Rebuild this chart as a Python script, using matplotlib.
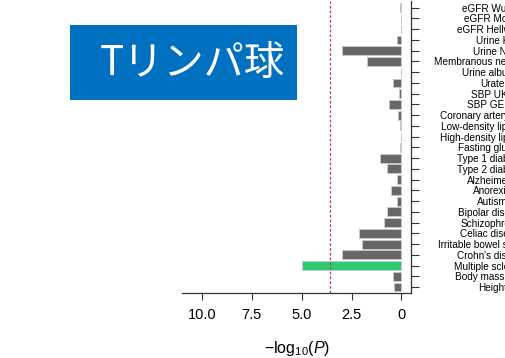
import numpy as np
import matplotlib
matplotlib.use("Agg")
import matplotlib.pyplot as plt
from matplotlib.patches import Rectangle

plt.rcParams['font.family'] = ['Liberation Sans', 'DejaVu Sans']
plt.rcParams['mathtext.fontset'] = 'custom'
plt.rcParams['mathtext.rm'] = 'Liberation Sans'
plt.rcParams['mathtext.it'] = 'Liberation Sans:italic'

# traits, top to bottom, and their -log10(P) enrichment
traits = [
    "eGFR Wuttke", "eGFR Morris", "eGFR Hellwege", "Urine K", "Urine Na",
    "Membranous nephropathy", "Urine albumin", "Urate", "SBP UKB", "SBP GERA",
    "Coronary artery disease", "Low-density lipoprotein",
    "High-density lipoprotein", "Fasting glucose", "Type 1 diabetes",
    "Type 2 diabetes", "Alzheimer's", "Anorexia", "Autism", "Bipolar disorder",
    "Schizophrenia", "Celiac disease", "Irritable bowel syndrome",
    "Crohn's disease", "Multiple sclerosis", "Body mass index", "Height",
]
neglogp = [
    0.05, 0.03, 0.02, 0.22, 2.98,
    1.70, 0.02, 0.42, 0.13, 0.60,
    0.18, 0.05, 0.03, 0.07, 1.07,
    0.73, 0.23, 0.53, 0.20, 0.73,
    0.85, 2.12, 1.95, 2.98, 5.00,
    0.43, 0.35,
]
highlight = "Multiple sclerosis"
threshold = 3.56

xticks = [10, 7.5, 5, 2.5, 0]
xticklabels = ["10.0", "7.5", "5.0", "2.5", "0"]

fig = plt.figure(figsize=(5.06, 3.58), dpi=100)
ax = fig.add_axes([0.3597, 0.1816, 0.4532, 0.8164])

ypos = np.arange(len(traits))
colors = ['#2fcb72' if t == highlight else '#676767' for t in traits]
ax.barh(ypos, neglogp, height=0.82, color=colors, edgecolor='#c8c8c8', linewidth=0.7)
ax.axvline(threshold, color='#b3474c', linestyle=(0, (2.2, 1.6)), linewidth=0.9)

ax.set_xlim(11, -0.5)
ax.set_ylim(len(traits) - 0.45, -0.65)

ax.spines['left'].set_visible(False)
ax.spines['top'].set_visible(False)
ax.spines['right'].set_color('#333333')
ax.spines['bottom'].set_color('#333333')
ax.spines['right'].set_linewidth(0.9)
ax.spines['bottom'].set_linewidth(0.9)

ax.set_xticks(xticks)
ax.set_xticklabels(xticklabels, fontsize=10.5)
ax.tick_params(axis='x', length=5, width=0.8, color='#333333', pad=6)

ax.yaxis.tick_right()
ax.set_yticks(ypos)
ax.set_yticklabels(traits, fontsize=7.2)
ax.tick_params(axis='y', length=6, width=0.8, color='#333333', pad=52.5)
for lab in ax.get_yticklabels():
    lab.set_horizontalalignment('center')

ax.set_xlabel(r'$\mathrm{-log}_{10}(P)$', fontsize=11.5, labelpad=12)

# title box
fig.patches.append(Rectangle((70 / 506, 1 - 100 / 358), 227 / 506, 75 / 358,
                             transform=fig.transFigure, facecolor='#0070c0',
                             edgecolor='none', zorder=5))
fig.text(192 / 506, 1 - 63 / 358, "Tリンパ球", color='white', fontsize=29,
         family=['Noto Sans CJK JP', 'DejaVu Sans'], ha='center', va='center',
         zorder=6)

fig.savefig("out.png", dpi=100)
